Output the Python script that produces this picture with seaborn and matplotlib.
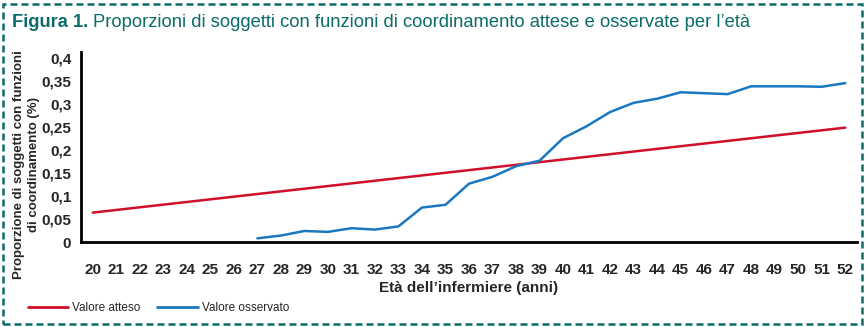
import matplotlib
matplotlib.use("Agg")
import matplotlib.pyplot as plt
from matplotlib.patches import Rectangle
from matplotlib.lines import Line2D
import seaborn as sns
import pandas as pd
import numpy as np

# ---- data ----
ages_expected = [20, 52]
values_expected = [0.064, 0.249]

ages_observed = [27, 28, 29, 30, 31, 32, 33, 34, 35, 36, 37, 38, 39,
                 40, 41, 42, 43, 44, 45, 46, 47, 48, 49, 50, 51, 52]
values_observed = [0.008, 0.014, 0.024, 0.022, 0.030, 0.027, 0.034, 0.075,
                   0.081, 0.127, 0.142, 0.165, 0.177, 0.226, 0.252, 0.283,
                   0.303, 0.312, 0.326, 0.324, 0.322, 0.339, 0.339, 0.339,
                   0.338, 0.346]

x_labels = [str(a) for a in range(20, 53)]
y_ticks = [0, 0.05, 0.1, 0.15, 0.2, 0.25, 0.3, 0.35, 0.4]
y_labels = ["0", "0,05", "0,1", "0,15", "0,2", "0,25", "0,3", "0,35", "0,4"]

series_names = ["Valore atteso", "Valore osservato"]
colors = ["#d0102b", "#1a78c0"]

title_bold = "Figura 1."
title_rest = "Proporzioni di soggetti con funzioni di coordinamento attese e osservate per l\u2019età"
xlabel = "Età dell\u2019infermiere (anni)"
ylabel = "Proporzione di soggetti con funzioni\ndi coordinamento (%)"

df = pd.DataFrame({
    "age": ages_expected + ages_observed,
    "value": values_expected + values_observed,
    "series": [series_names[0]] * len(ages_expected) + [series_names[1]] * len(ages_observed),
})

# ---- style ----
sns.set_theme(style="white")
plt.rcParams["font.family"] = ["Liberation Sans", "DejaVu Sans"]
teal = "#0c6b6b"

fig = plt.figure(figsize=(8.68, 3.27), dpi=100)
ax = fig.add_axes([81 / 868, 1 - 242 / 327, (857 - 81) / 868, (242 - 52) / 327])

sns.lineplot(data=df, x="age", y="value", hue="series", palette=colors,
             hue_order=series_names, linewidth=1.8, ax=ax, legend=False)

ax.set_xlim(19.5, 52.5)
ax.set_ylim(0, 0.4137)

ax.set_xticks(range(20, 53))
ax.set_xticklabels(x_labels, fontsize=11, fontweight="bold")
ax.tick_params(axis="x", which="major", length=0, pad=15)
ax.set_xticks(np.arange(20.5, 53.0, 1.0), minor=True)
ax.tick_params(axis="x", which="minor", length=8, width=2, direction="out", color="black")

ax.set_yticks(y_ticks)
ax.set_yticklabels(y_labels, fontsize=11, fontweight="bold")
ax.tick_params(axis="y", length=5, width=2, direction="out", color="black", pad=2)

for s in ["top", "right"]:
    ax.spines[s].set_visible(False)
for s in ["left", "bottom"]:
    ax.spines[s].set_linewidth(2)
    ax.spines[s].set_color("black")

ax.set_xlabel(xlabel, fontsize=11, fontweight="bold", labelpad=3)
ax.set_ylabel(ylabel, fontsize=9.5, fontweight="bold", linespacing=1.3)
ax.yaxis.set_label_coords((40 - 81) / 776, (242 - 165) / 190)

# title
t1 = fig.text(12 / 868, 1 - 27 / 327, title_bold, fontsize=13.2, fontweight="bold",
              color=teal, va="baseline", ha="left")
fig.canvas.draw()
bb = t1.get_window_extent()
fig.text((bb.x1 + 5) / 868, 1 - 27 / 327, title_rest, fontsize=13.2, color=teal,
         va="baseline", ha="left")

# legend
handles = [Line2D([0], [0], color=c, lw=2) for c in colors]
fig.legend(handles, series_names, loc="center left",
           bbox_to_anchor=(17 / 868, 1 - 308 / 327), ncol=2, frameon=False,
           handlelength=3.4, handletextpad=0.4, columnspacing=1.4,
           prop={"size": 8.5})

# dashed frame
fig.patches.append(Rectangle((3 / 868, 3 / 327), 859 / 868, 320 / 327,
                             transform=fig.transFigure, fill=False,
                             edgecolor=teal, linewidth=1.8, linestyle=(0, (2.8, 1.6))))

fig.savefig("out.png", dpi=100)
